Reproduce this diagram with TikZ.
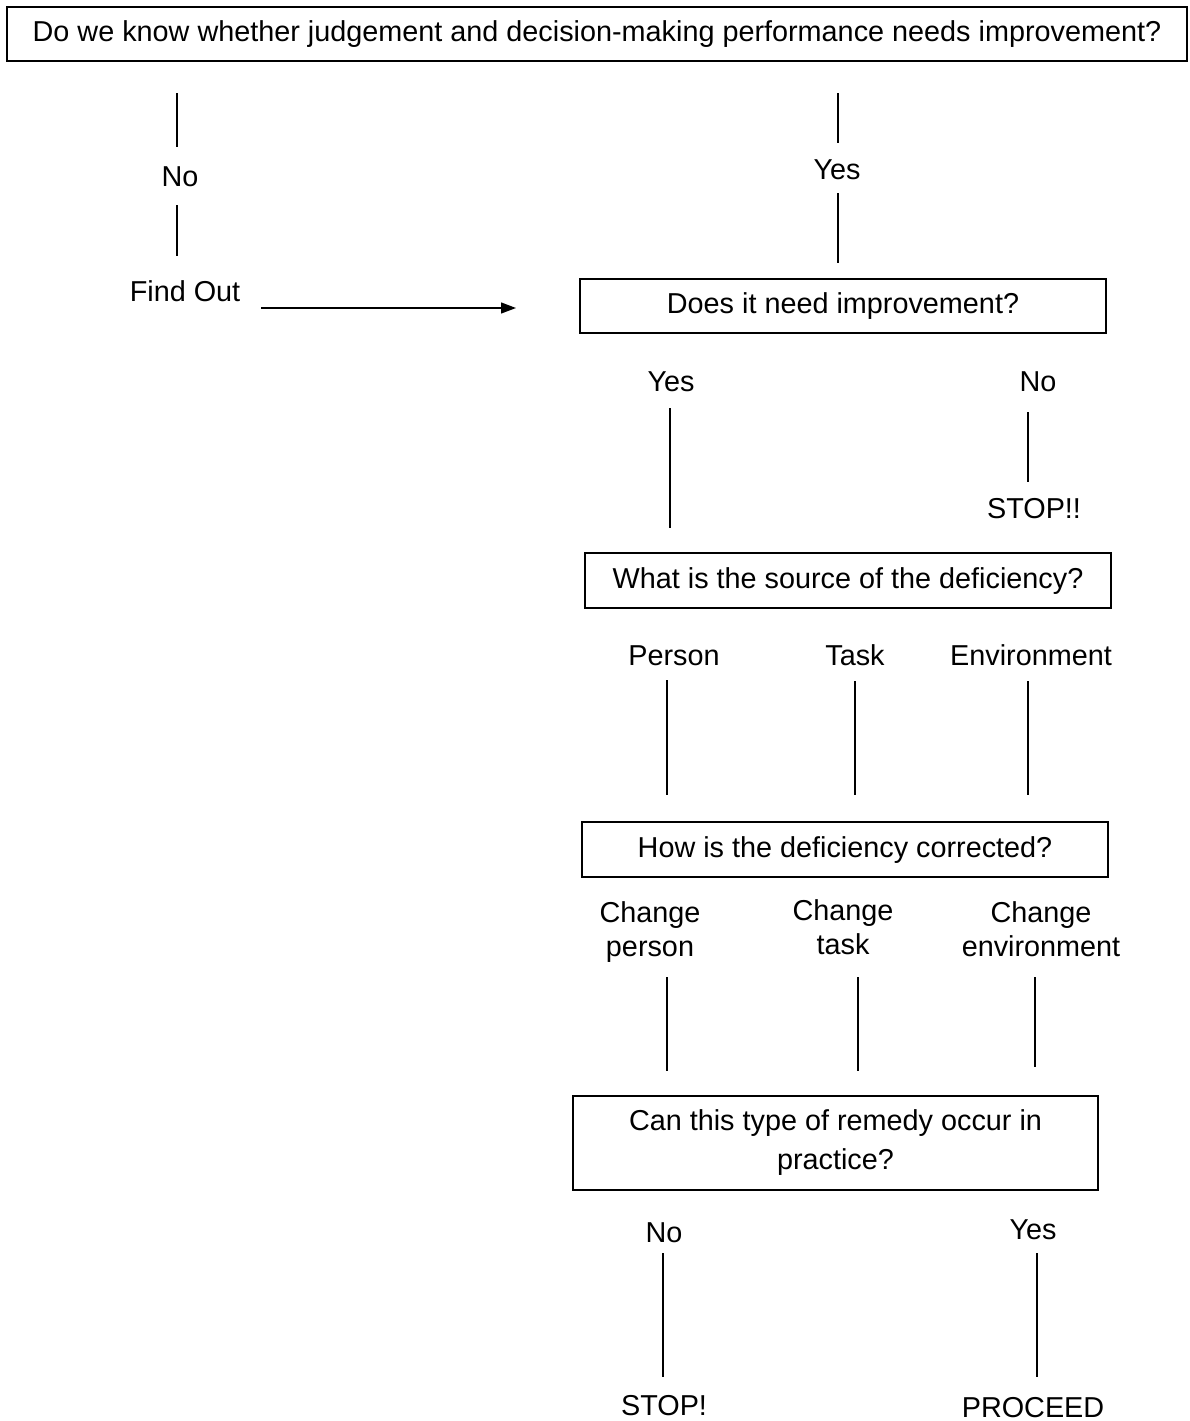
\documentclass[tikz,border=0pt]{standalone}
\usepackage{fontspec}
\setmainfont{Liberation Sans}
\usetikzlibrary{arrows.meta}
\begin{document}
\begin{tikzpicture}[x=1pt,y=-1pt,
  every node/.style={font=\fontsize{28.8}{34}\selectfont, inner sep=0pt},
  qbox/.style={draw, line width=1.4pt, text height=20pt, text depth=5pt, inner sep=0pt},
  lbl/.style={anchor=base, align=center},
  conn/.style={line width=1.3pt},
  tip/.style={-{Triangle[length=15pt,width=11pt]}}
  ]
\useasboundingbox (0,0) rectangle (1189,1421);

% question boxes
\node[qbox, minimum width=1180pt, minimum height=54pt] (q1) at (597,34)
  {Do we know whether judgement and decision-making performance needs improvement?};
\node[qbox, minimum width=526pt, minimum height=54pt] (q2) at (843,306)
  {Does it need improvement?};
\node[qbox, minimum width=526pt, minimum height=55pt] (q3) at (848,580.5)
  {What is the source of the deficiency?};
\node[qbox, minimum width=526pt, minimum height=55pt] (q4) at (845,849.5)
  {How is the deficiency corrected?};
\node[draw, line width=1.4pt, inner sep=0pt, align=center,
  font=\fontsize{28.8}{39}\selectfont,
  minimum width=525pt, minimum height=94pt] (q5) at (835.5,1143)
  {Can this type of remedy occur in\\practice?};

% answer labels (base = baseline of the last line)
\node[lbl] (no1) at (180,186) {No};
\node[lbl] (findout) at (185,301) {Find Out};
\node[lbl] (yes1) at (837,179) {Yes};

\node[lbl] (yes2) at (671,391) {Yes};
\node[lbl] (no2) at (1038,391) {No};
\node[lbl] (stop2) at (1034,518) {STOP!!};

\node[lbl] (person) at (674,665) {Person};
\node[lbl] (task) at (855,665) {Task};
\node[lbl] (env) at (1031,665) {Environment};

\node[lbl] (chp) at (650,956) {Change\\person};
\node[lbl] (cht) at (843,954) {Change\\task};
\node[lbl] (che) at (1041,956) {Change\\environment};

\node[lbl] (no5) at (664,1242) {No};
\node[lbl] (yes5) at (1033,1239) {Yes};
\node[lbl] (stop5) at (664,1415) {STOP!};
\node[lbl] (proceed) at (1033,1417) {PROCEED};

% connector end points
\coordinate (a1) at (177,93);   \coordinate (a2) at (177,147);
\coordinate (a3) at (177,205);  \coordinate (a4) at (177,256);
\coordinate (f1) at (261,308);  \coordinate (f2) at (516,308);
\coordinate (b1) at (838,93);   \coordinate (b2) at (838,143);
\coordinate (b3) at (838,193);  \coordinate (b4) at (838,263);
\coordinate (c1) at (670,408);  \coordinate (c2) at (670,528);
\coordinate (c3) at (1028,412); \coordinate (c4) at (1028,482);
\coordinate (d1) at (667,680);  \coordinate (d2) at (667,795);
\coordinate (d3) at (855,681);  \coordinate (d4) at (855,795);
\coordinate (d5) at (1028,681); \coordinate (d6) at (1028,795);
\coordinate (e1) at (667,977);  \coordinate (e2) at (667,1071);
\coordinate (e3) at (858,977);  \coordinate (e4) at (858,1071);
\coordinate (e5) at (1035,977); \coordinate (e6) at (1035,1067);
\coordinate (g1) at (663,1253); \coordinate (g2) at (663,1377);
\coordinate (g3) at (1037,1253);\coordinate (g4) at (1037,1377);

% connectors
\draw[conn] (a1) -- (a2);
\draw[conn] (a3) -- (a4);
\draw[conn, tip] (f1) -- (f2);
\draw[conn] (b1) -- (b2);
\draw[conn] (b3) -- (b4);
\draw[conn] (c1) -- (c2);
\draw[conn] (c3) -- (c4);
\draw[conn] (d1) -- (d2);
\draw[conn] (d3) -- (d4);
\draw[conn] (d5) -- (d6);
\draw[conn] (e1) -- (e2);
\draw[conn] (e3) -- (e4);
\draw[conn] (e5) -- (e6);
\draw[conn] (g1) -- (g2);
\draw[conn] (g3) -- (g4);
\end{tikzpicture}
\end{document}
